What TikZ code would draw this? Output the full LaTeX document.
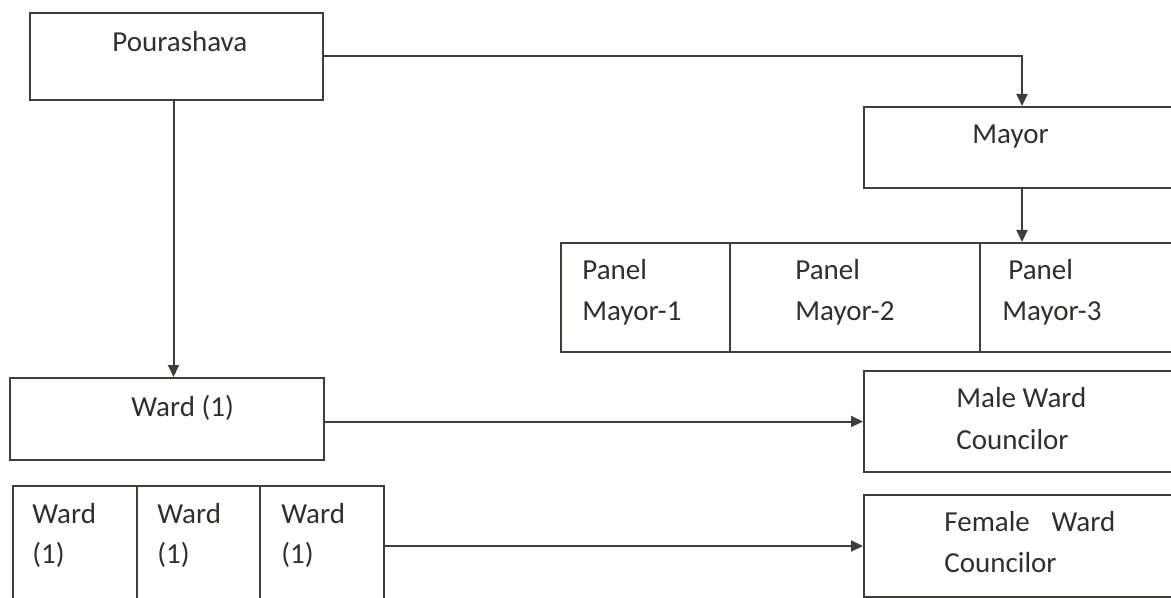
\documentclass[tikz,border=0pt]{standalone}
\usepackage{fontspec}
\setmainfont{Carlito}
\usetikzlibrary{arrows.meta, positioning, calc}
\definecolor{linegray}{HTML}{3F3F3A}
\definecolor{textgray}{HTML}{30302B}

\begin{document}
\begin{tikzpicture}[
    x=0.5pt, y=-0.5pt,
    box/.style={
        rectangle,
        draw=linegray,
        line width=1pt,
        inner sep=0pt,
        anchor=north west
    },
    txt/.style={
        anchor=base west,
        inner sep=0pt,
        text=textgray,
        font=\fontsize{14.5}{17}\selectfont
    },
    arrow/.style={
        -{Triangle[length=6pt, width=5.5pt]},
        line width=1pt,
        linegray
    }
]
    \useasboundingbox (0,0) rectangle (1171,598);
    \clip (0,0) rectangle (1171,598);

    % boxes
    \node[box, minimum width=146.5pt, minimum height=43.5pt] (pour) at (29,12) {};
    \node[box, minimum width=200pt, minimum height=40.5pt] (mayor) at (863,106) {};
    \node[box, minimum width=84.5pt, minimum height=54.5pt] (panel1) at (560,242) {};
    \node[box, minimum width=125pt, minimum height=54.5pt] (panel2) at (729,242) {};
    \node[box, minimum width=120pt, minimum height=54.5pt] (panel3) at (979,242) {};
    \node[box, minimum width=157pt, minimum height=41pt] (ward) at (9,377) {};
    \node[box, minimum width=62pt, minimum height=65pt] (cell1) at (12,485) {};
    \node[box, minimum width=61.5pt, minimum height=65pt] (cell2) at (136,485) {};
    \node[box, minimum width=62pt, minimum height=65pt] (cell3) at (259,485) {};
    \node[box, minimum width=200pt, minimum height=50.5pt] (male) at (863,370) {};
    \node[box, minimum width=200pt, minimum height=51pt] (female) at (863,494) {};

    % texts
    \node[txt] (t-pour) at (112,52) {Pourashava};
    \node[txt] (t-mayor) at (972,144) {Mayor};
    \node[txt] (t-p1a) at (582,280) {Panel};
    \node[txt] (t-p1b) at (582,321) {Mayor-1};
    \node[txt] (t-p2a) at (795,280) {Panel};
    \node[txt] (t-p2b) at (795,321) {Mayor-2};
    \node[txt] (t-p3a) at (1008,280) {Panel};
    \node[txt] (t-p3b) at (1002,321) {Mayor-3};
    \node[txt] (t-ward) at (131,416) {Ward (1)};
    \node[txt] (t-c1a) at (32,523) {Ward};
    \node[txt] (t-c1b) at (32,563) {(1)};
    \node[txt] (t-c2a) at (157,523) {Ward};
    \node[txt] (t-c2b) at (157,563) {(1)};
    \node[txt] (t-c3a) at (281,523) {Ward};
    \node[txt] (t-c3b) at (281,563) {(1)};
    \node[txt] (t-male1) at (956,407) {Male Ward};
    \node[txt] (t-male2) at (956,449) {Councilor};
    \node[txt] (t-fem1) at (944,531) {Female\hspace{0.75em}Ward};
    \node[txt] (t-fem2) at (944,572) {Councilor};

    % connectors
    \draw[arrow] (pour.east) -| ([xshift=79.5pt]mayor.north west);
    \draw[arrow] ([xshift=79.5pt]mayor.south west) -- ([xshift=21.5pt]panel3.north west);
    \draw[arrow] ([xshift=-1.5pt]pour.south) -- ([xshift=-1.5pt]pour.south |- ward.north);
    \draw[arrow] (male.west -| ward.east) -- (male.west);
    \draw[arrow] (female.west -| cell3.east) -- (female.west);
\end{tikzpicture}
\end{document}
